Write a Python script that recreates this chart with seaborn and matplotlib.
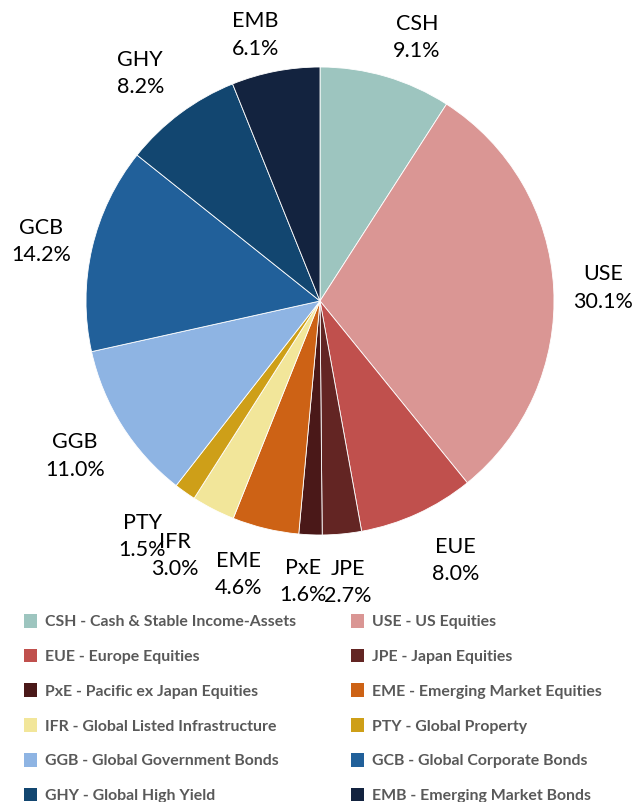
import matplotlib
matplotlib.use("Agg")
import matplotlib.pyplot as plt
import matplotlib.patches as mpatches
import seaborn as sns
import numpy as np

sns.set_theme(style="white")
plt.rcParams['font.family'] = ['Lato', 'DejaVu Sans']

codes = ["CSH", "USE", "EUE", "JPE", "PxE", "EME", "IFR", "PTY", "GGB", "GCB", "GHY", "EMB"]
names = ["Cash & Stable Income-Assets", "US Equities", "Europe Equities", "Japan Equities",
         "Pacific ex Japan Equities", "Emerging Market Equities", "Global Listed Infrastructure",
         "Global Property", "Global Government Bonds", "Global Corporate Bonds",
         "Global High Yield", "Emerging Market Bonds"]
weights = [9.1, 30.1, 8.0, 2.7, 1.6, 4.6, 3.0, 1.5, 11.0, 14.2, 8.2, 6.1]
colors = ["#9DC5BF", "#DA9694", "#C0504D", "#632523", "#4A1818", "#CD6215",
          "#F2E69A", "#CE9F18", "#8EB4E3", "#21609A", "#124670", "#13233F"]

# label placement (style only): radial distance in pie radii, clockwise angle nudge in degrees
label_dist = [1.20, 1.21, 1.25, 1.21, 1.20, 1.22, 1.25, 1.26, 1.24, 1.22, 1.24, 1.17]
label_nudge = [3.8, 0.5, -2.9, -0.3, 1.2, 3.2, 2.5, 1.8, 0.0, -1.0, -1.6, -2.7]

W, H = 635, 802
fig = plt.figure(figsize=(W / 100, H / 100), dpi=100)
cx, cy, R = 320, 301, 234
ax = fig.add_axes([(cx - R) / W, (H - cy - R) / H, 2 * R / W, 2 * R / H])

labels = [f"{c}\n{v:.1f}%" for c, v in zip(codes, weights)]
wedges, texts = ax.pie(weights, colors=colors, startangle=90, counterclock=False,
                       labels=labels, labeldistance=1.2,
                       wedgeprops=dict(edgecolor="white", linewidth=0.6),
                       textprops=dict(fontsize=15.5, color="black", linespacing=1.45))
for w, t, d, nd in zip(wedges, texts, label_dist, label_nudge):
    ang = np.deg2rad((w.theta1 + w.theta2) / 2 - nd)
    t.set_position((d * w.r * np.cos(ang), d * w.r * np.sin(ang)))
    t.set_ha("center")
    t.set_va("center")
    t.set_multialignment("center")
ax.set_xlim(-1, 1)
ax.set_ylim(-1, 1)
ax.set_aspect("auto")
ax.axis("off")

handles = [mpatches.Patch(facecolor=c, edgecolor="none") for c in colors]
leg_labels = [f"{c} - {n}" for c, n in zip(codes, names)]

common = dict(loc="upper left", frameon=False, borderpad=0, borderaxespad=0,
              handlelength=0.8, handleheight=0.95, handletextpad=0.5,
              labelspacing=1.23, prop=dict(family="Lato", weight="bold", size=11.4),
              labelcolor="#595959")
y0 = (H - 614) / H
leg1 = fig.legend(handles[0::2], leg_labels[0::2], bbox_to_anchor=(24 / W, y0), **common)
leg2 = fig.legend(handles[1::2], leg_labels[1::2], bbox_to_anchor=(351 / W, y0), **common)

fig.savefig("out.png", dpi=100)
